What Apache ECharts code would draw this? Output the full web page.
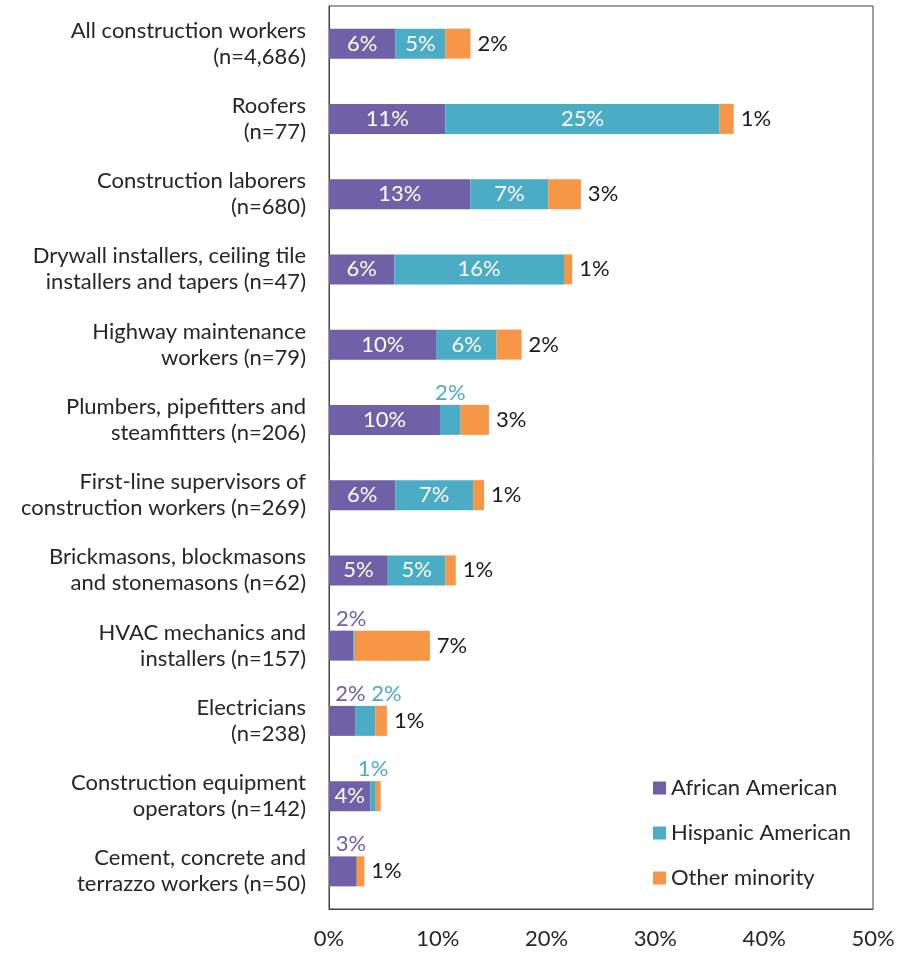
<!DOCTYPE html>
<html>
<head>
<meta charset="utf-8">
<script src="https://cdn.jsdelivr.net/npm/echarts@6/dist/echarts.min.js"></script>
<style>
  html, body { margin: 0; padding: 0; background: #fff; }
  #main { width: 913px; height: 953px; }
</style>
</head>
<body>
<div id="main"></div>
<script>
// categories, top to bottom
const categories = [
  'All construction workers\n(n=4,686)',
  'Roofers\n(n=77)',
  'Construction laborers\n(n=680)',
  'Drywall installers, ceiling tile\ninstallers and tapers (n=47)',
  'Highway maintenance\nworkers (n=79)',
  'Plumbers, pipefitters and\nsteamfitters (n=206)',
  'First-line supervisors of\nconstruction workers (n=269)',
  'Brickmasons, blockmasons\nand stonemasons (n=62)',
  'HVAC mechanics and\ninstallers (n=157)',
  'Electricians\n(n=238)',
  'Construction equipment\noperators (n=142)',
  'Cement, concrete and\nterrazzo workers (n=50)'
];
const seriesNames = ['African American', 'Hispanic American', 'Other minority'];
// percent of workers
const african  = [6.1, 10.7, 13.0, 6.0, 9.9, 10.2, 6.1, 5.4, 2.25, 2.45, 3.8, 2.55];
const hispanic = [4.6, 25.2, 7.15, 15.6, 5.5, 1.9, 7.15, 5.3, 0.12, 1.8, 0.5, 0];
const other    = [2.3, 1.3, 3.0, 0.75, 2.3, 2.6, 1.0, 0.95, 6.9, 1.07, 0.45, 0.7];
const xTicks = [0, 10, 20, 30, 40, 50];

const colors = ['#7060a8', '#4bacc6', '#f79646'];
const FONT = 'Lato';
const FS = 22;

// narrow segments get their label above the bar (row index -> x offset)
const aboveAfrican = { 8: 10, 9: 8, 11: 8 };
const aboveHispanic = { 5: 0, 9: 21, 10: 0 };

const pct = v => Math.round(v) >= 1 ? Math.round(v) + '%' : '';

function buildData(values, above, color) {
  return values.map((v, i) => {
    if (above[i] === undefined) return v;
    return {
      value: v,
      label: {
        position: 'top',
        distance: 1,
        offset: [above[i], 0],
        color: color
      }
    };
  });
}

var chart = echarts.init(document.getElementById('main'));
var option = {
  backgroundColor: '#fff',
  animation: false,
  textStyle: { fontFamily: FONT },
  grid: {
    left: 329, right: 40, top: 6, bottom: 44,
    show: true, borderColor: '#404040', borderWidth: 1
  },
  legend: {
    orient: 'vertical',
    left: 648, top: 771,
    itemWidth: 13, itemHeight: 13, itemGap: 21,
    icon: 'rect',
    data: seriesNames,
    textStyle: { fontSize: FS, color: '#262626', fontFamily: FONT, lineHeight: 24 }
  },
  xAxis: {
    type: 'value',
    min: xTicks[0], max: xTicks[xTicks.length - 1], interval: 10,
    splitLine: { show: false },
    axisTick: { show: false },
    axisLine: { show: true, lineStyle: { color: '#404040' } },
    axisLabel: {
      margin: 19, fontSize: FS, color: '#262626', fontFamily: FONT,
      formatter: v => v + '%'
    }
  },
  yAxis: {
    type: 'category',
    inverse: true,
    data: categories,
    axisTick: { show: false },
    axisLine: { show: true, lineStyle: { color: '#404040' } },
    axisLabel: {
      margin: 23, fontSize: FS, lineHeight: 26, color: '#262626',
      fontFamily: FONT, align: 'right'
    }
  },
  series: [
    {
      name: seriesNames[0], type: 'bar', stack: 'total', barWidth: 30,
      itemStyle: { color: colors[0] },
      label: {
        show: true, position: 'inside', color: '#fff', fontSize: FS, fontFamily: FONT,
        formatter: p => pct(p.value)
      },
      data: buildData(african, aboveAfrican, colors[0])
    },
    {
      name: seriesNames[1], type: 'bar', stack: 'total', barWidth: 30,
      itemStyle: { color: colors[1] },
      label: {
        show: true, position: 'inside', color: '#fff', fontSize: FS, fontFamily: FONT,
        formatter: p => pct(p.value)
      },
      data: buildData(hispanic, aboveHispanic, colors[1])
    },
    {
      name: seriesNames[2], type: 'bar', stack: 'total', barWidth: 30,
      itemStyle: { color: colors[2] },
      label: {
        show: true, position: 'right', distance: 7, color: '#1a1a1a', fontSize: FS, fontFamily: FONT,
        formatter: p => pct(p.value)
      },
      data: other
    }
  ]
};
chart.setOption(option);
window.onresize = () => chart.resize();
</script>
</body>
</html>
